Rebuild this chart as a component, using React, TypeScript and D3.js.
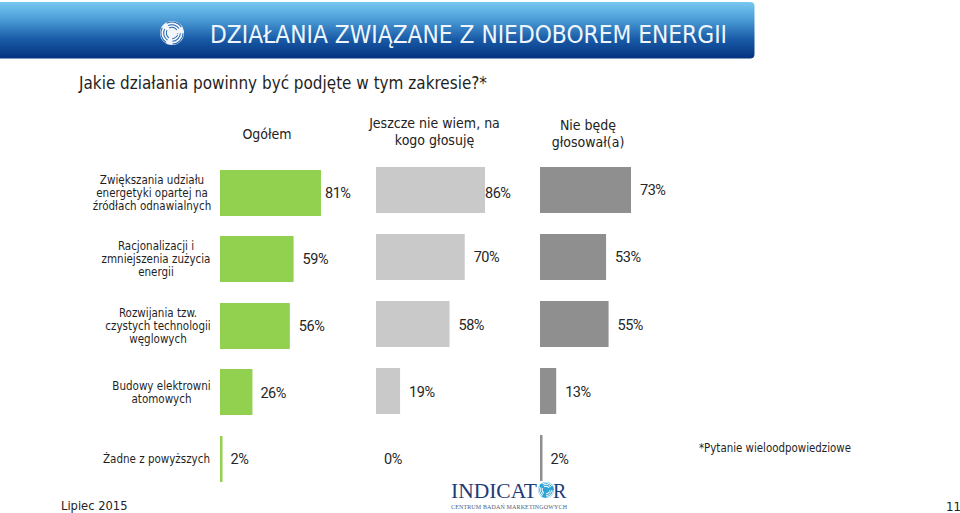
import React from "react";
import * as d3 from "d3";

const categories = [
  ["Zwiększania udziału", "energetyki opartej na", "źródłach odnawialnych"],
  ["Racjonalizacji i", "zmniejszenia zużycia", "energii"],
  ["Rozwijania tzw.", "czystych technologii", "węglowych"],
  ["Budowy elektrowni", "atomowych"],
  ["Żadne z powyższych"],
];
const ogolem = [81, 59, 56, 26, 2];
const jeszcze = [86, 70, 58, 19, 0];
const nieBede = [73, 53, 55, 13, 2];

const FONT = "'DejaVu Sans Condensed', 'DejaVu Sans', sans-serif";
const W = 960, H = 513;

const panels = [
  { values: ogolem, x0: 220, width: 101 / 81 * 100, fill: "#92d050", top: [170, 236, 303, 369, 436], gaps: [4, 9, 9, 8, 8], labelY: [193, 259, 326, 393, 459] },
  { values: jeszcze, x0: 376, width: 109 / 86 * 100, fill: "#c9c9c9", top: [167, 234, 301, 368, 435], gaps: [0, 9, 9, 9, 8], labelY: [193, 257, 325, 392, 459] },
  { values: nieBede, x0: 540, width: 91 / 73 * 100, fill: "#8f8f8f", top: [167, 234, 301, 368, 435], gaps: [9, 9, 9, 9, 8], labelY: [190, 257, 325, 392, 459] },
];
const BAR_H = 46;
const labelCenters = [193, 259, 326, 392.5, 459];
const labelX = [152, 156, 158, 161.5, 210];
const LH = 13.2;

function Pct({ x, y, v }: { x: number; y: number; v: number }) {
  return (
    <text x={x} y={y} dy="0.35em" fontSize={14.5} letterSpacing={-0.5} fill="#262626" fontFamily="Roboto, sans-serif">
      {v}%
    </text>
  );
}

function Emblem({ cx, cy, r, color, bg }: { cx: number; cy: number; r: number; color: string; bg: string }) {
  const arcs = [0.95, 0.72, 0.5];
  const arc = d3.arc();
  return (
    <g transform={`translate(${cx},${cy})`}>
      <circle r={r} fill={color} />
      {[-0.5, 1.6, 3.7].map((a, i) => (
        <g key={i}>
          {arcs.map((k, j) => (
            <path key={j} d={arc({ innerRadius: r * k - 0.8, outerRadius: r * k + 0.2, startAngle: a, endAngle: a + 1.5 }) as string} fill={bg} />
          ))}
        </g>
      ))}
      <path d={`M${-r * 0.25},${-r * 0.15}L${r * 0.55},${r * 0.1}L${-r * 0.2},${r * 0.5}Z`} fill={color} />
    </g>
  );
}

export default function App() {
  return (
    <svg width={W} height={H} viewBox={`0 0 ${W} ${H}`} style={{ position: "absolute", left: 0, top: 0, background: "#fff" }}>
      <defs>
        <linearGradient id="hdr" x1="0" y1="0" x2="0" y2="1">
          <stop offset="0" stopColor="#78c8f0" />
          <stop offset="0.3" stopColor="#4d9ed8" />
          <stop offset="0.65" stopColor="#1a5ca8" />
          <stop offset="1" stopColor="#04327f" />
        </linearGradient>
      </defs>
      <path d="M0,2H750Q754.500,2 754.500,6V54Q754.500,58.500 750,58.500H0Z" fill="url(#hdr)" />
      <Emblem cx={172} cy={33} r={12} color="#f2f6fb" bg="#1f63ae" />
      <text x={210} y={43} fontSize={25} fill="#eef6fc" fontFamily={FONT} textLength={517} lengthAdjust="spacingAndGlyphs">DZIAŁANIA ZWIĄZANE Z NIEDOBOREM ENERGII</text>
      <text x={79} y={89} fontSize={17} fill="#1f1f1f" fontFamily={FONT} textLength={408} lengthAdjust="spacingAndGlyphs">Jakie działania powinny być podjęte w tym zakresie?*</text>

      <g fontSize={14} fill="#222" fontFamily={FONT} textAnchor="middle">
        <text x={267} y={139}>Ogółem</text>
        <text x={434.5} y={128}>Jeszcze nie wiem, na</text>
        <text x={434.5} y={145}>kogo głosuję</text>
        <text x={588} y={130}>Nie będę</text>
        <text x={588} y={147}>głosował(a)</text>
      </g>

      <g fontSize={11.5} fill="#1f1f1f" fontFamily={FONT}>
        {categories.map((lines, i) => (
          <g key={i}>
            {lines.map((l, j) => (
              <text
                key={j}
                x={labelX[i]}
                y={labelCenters[i] + (j - (lines.length - 1) / 2) * LH}
                dy="0.35em"
                textAnchor={i === 4 ? "end" : "middle"}
              >
                {l}
              </text>
            ))}
          </g>
        ))}
      </g>

      {panels.map((p, k) => {
        const x = d3.scaleLinear().domain([0, 100]).range([p.x0, p.x0 + p.width]);
        return (
          <g key={k}>
            {p.values.map((v, i) => (
              <g key={i}>
                {v > 0 && <rect x={p.x0} y={p.top[i]} width={Math.max(x(v) - p.x0, 2)} height={BAR_H} fill={p.fill} />}
                <Pct x={x(v) + p.gaps[i]} y={p.labelY[i]} v={v} />
              </g>
            ))}
          </g>
        );
      })}

      <text x={699} y={452} fontSize={11.4} fill="#1f1f1f" fontFamily={FONT}>*Pytanie wieloodpowiedziowe</text>
      <text x={61} y={510} fontSize={12.8} fill="#222" fontFamily={FONT}>Lipiec 2015</text>
      <text x={961} y={511} fontSize={13} fill="#222" fontFamily={FONT} textAnchor="end">11</text>

      <text x={451} y={498} fontSize={20} fill="#1c3c78" fontFamily="'Liberation Serif', serif" textLength={86} lengthAdjust="spacingAndGlyphs">INDICAT</text>
      <text x={553} y={498} fontSize={20} fill="#1c3c78" fontFamily="'Liberation Serif', serif">R</text>
      <Emblem cx={546} cy={490} r={8} color="#2fa3d6" bg="#ffffff" />
      <text x={451} y={509} fontSize={6} fill="#50607a" fontFamily="'Liberation Serif', serif" textLength={116} lengthAdjust="spacing">CENTRUM BADAŃ MARKETINGOWYCH</text>
    </svg>
  );
}
